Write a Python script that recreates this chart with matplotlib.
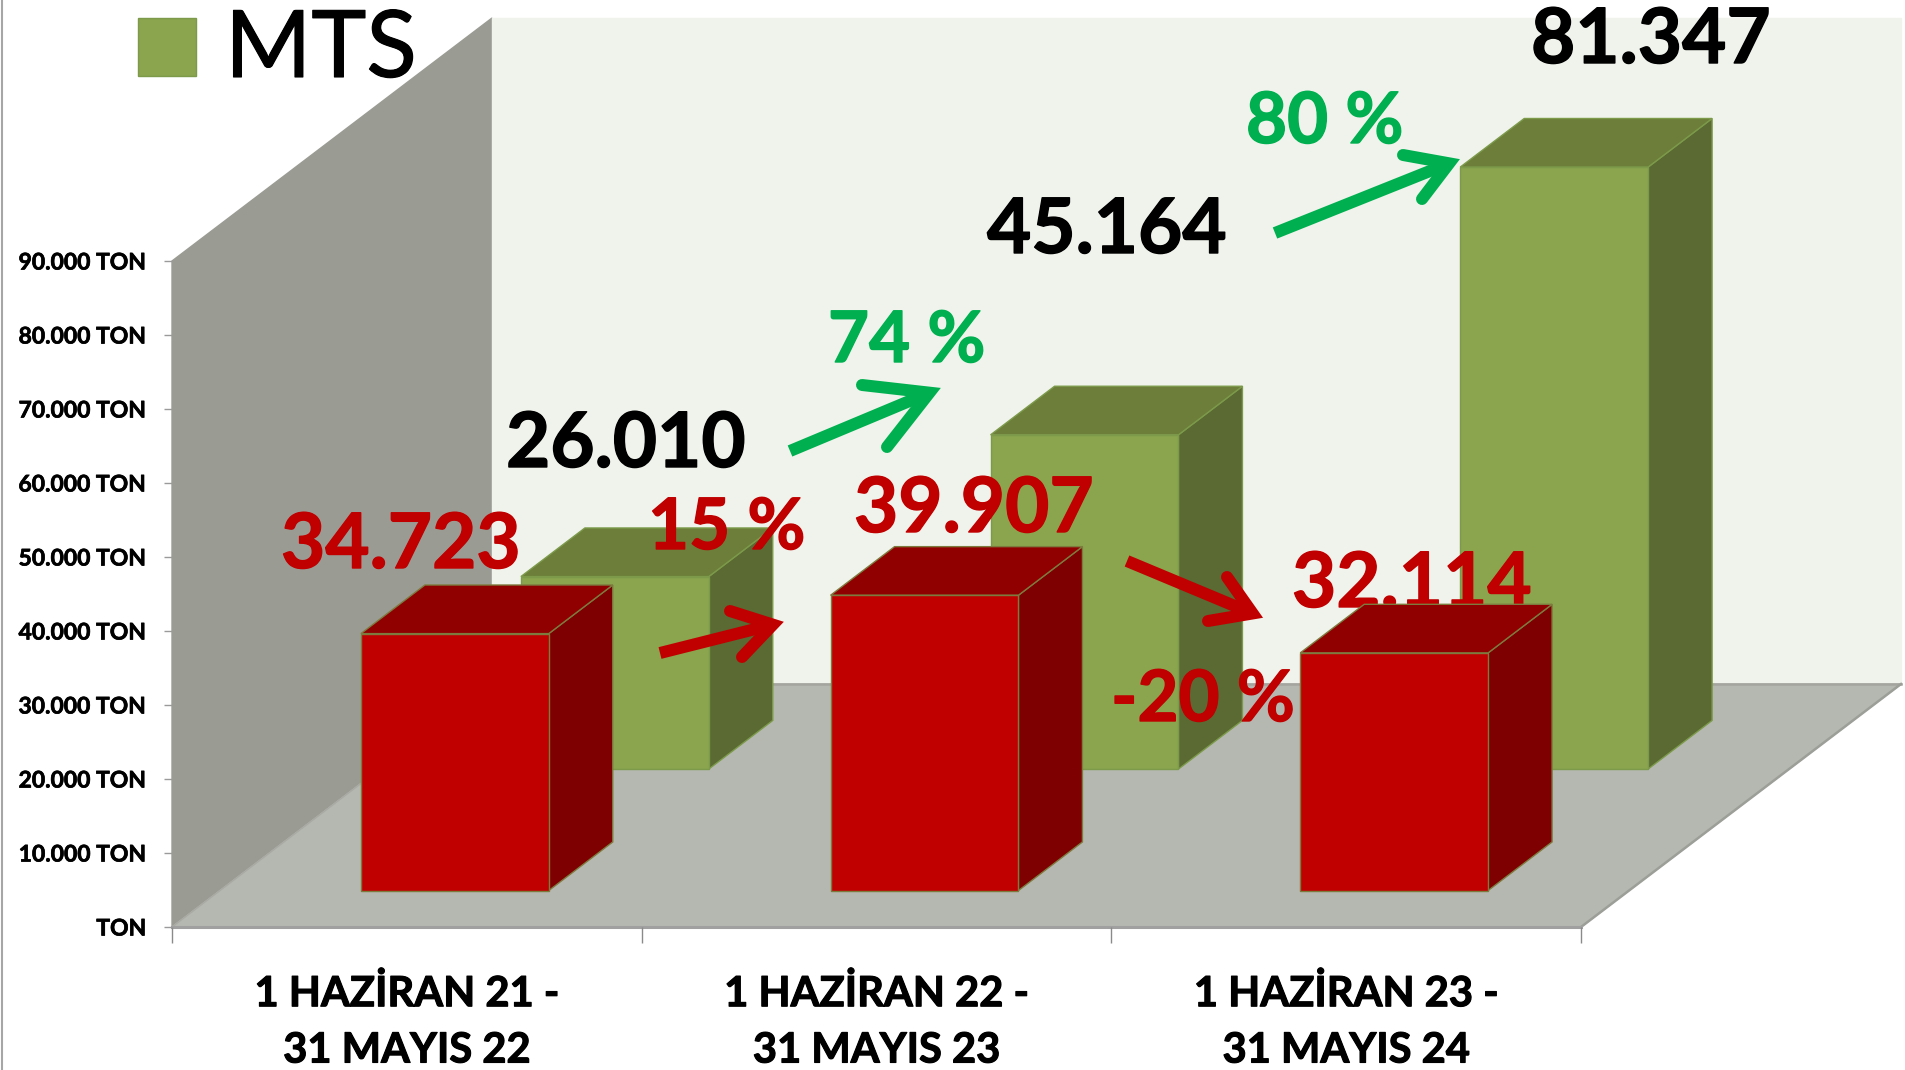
"""3D-look clustered bars (red front row, green MTS back row), drawn as projected polygons."""

import matplotlib

matplotlib.use("Agg")
import matplotlib.patheffects as pe
import matplotlib.pyplot as plt
import numpy as np
from matplotlib.patches import Polygon, Rectangle

plt.rcParams["font.family"] = ["Lato", "DejaVu Sans"]

W, H = 1905, 1070

categories = ["1 HAZİRAN 21 -\n31 MAYIS 22", "1 HAZİRAN 22 -\n31 MAYIS 23", "1 HAZİRAN 23 -\n31 MAYIS 24"]
red_values = [34723, 39907, 32114]
green_values = [26010, 45164, 81347]
y_ticks = [0, 10000, 20000, 30000, 40000, 50000, 60000, 70000, 80000, 90000]
y_labels = ["TON", "10.000 TON", "20.000 TON", "30.000 TON", "40.000 TON", "50.000 TON",
            "60.000 TON", "70.000 TON", "80.000 TON", "90.000 TON"]
red_labels = ["34.723", "39.907", "32.114"]
green_labels = ["26.010", "45.164", "81.347"]
red_changes = ["15 %", "-20 %"]
green_changes = ["74 %", "80 %"]

RED = "#C00000"
GREEN_TXT = "#00B050"

# how far one unit of depth shifts a point, in data units
DEPTH_X = 320 / (1409 / 3)
DEPTH_Y = 243 / 666 * 90000


def proj(x, y, z):
    return (x + z * DEPTH_X, y + z * DEPTH_Y)


def face(ax, pts, color, edge=None, lw=1.0, zorder=1):
    ax.add_patch(Polygon([proj(*p) for p in pts], closed=True, facecolor=color,
                         edgecolor=edge if edge else color, lw=lw, zorder=zorder, clip_on=False))


def bar3d(ax, x0, x1, z0, z1, v, front, top, side, edge, zorder):
    face(ax, [(x1, 0, z0), (x1, 0, z1), (x1, v, z1), (x1, v, z0)], side, edge, zorder=zorder)
    face(ax, [(x0, v, z0), (x1, v, z0), (x1, v, z1), (x0, v, z1)], top, edge, zorder=zorder)
    face(ax, [(x0, 0, z0), (x1, 0, z0), (x1, v, z0), (x0, v, z0)], front, edge, zorder=zorder)


def open_arrow(pix, tail, tip, barb1, barb2, color, lw_px=12):
    # the V's centre lines meet behind the tip so that the mitre lands right on it
    lw = lw_px * 72 / 100
    tail, tip, barb1, barb2 = [np.array(p, float) for p in (tail, tip, barb1, barb2)]
    u1 = (barb1 - tip) / np.linalg.norm(barb1 - tip)
    u2 = (barb2 - tip) / np.linalg.norm(barb2 - tip)
    bis = (u1 + u2) / np.linalg.norm(u1 + u2)
    sin_half = np.linalg.norm(u1 - u2) / 2
    inner = tip + bis * (lw_px / 2) / sin_half
    pix.plot([tail[0], inner[0]], [tail[1], inner[1]], color=color, lw=lw, solid_capstyle="butt")
    pix.plot([barb1[0], inner[0], barb2[0]], [barb1[1], inner[1], barb2[1]], color=color, lw=lw,
             solid_joinstyle="miter", solid_capstyle="round")


def thick(color, w=1.0):
    # Lato Bold is a little lighter than the reference's face
    return [pe.withStroke(linewidth=w, foreground=color)]


fig = plt.figure(figsize=(W / 100, H / 100), dpi=100, facecolor="white")
ax = fig.add_axes([172 / W, (H - 927) / H, 1409 / W, 666 / H])
ax.set_xlim(0, 3)
ax.set_ylim(0, 90000)
ax.patch.set_visible(False)

# overlay in pixel coordinates for the free-floating annotations
pix = fig.add_axes([0, 0, 1, 1], xlim=(0, W), ylim=(H, 0), zorder=5)
pix.axis("off")

# walls and floor
face(ax, [(0, 0, 0), (0, 90000, 0), (0, 90000, 1), (0, 0, 1)], "#9A9C94", zorder=1)
face(ax, [(0, 0, 1), (3, 0, 1), (3, 90000, 1), (0, 90000, 1)], "#F0F3EC", zorder=1)
face(ax, [(0, 0, 0), (3, 0, 0), (3, 0, 1), (0, 0, 1)], "#B5B8B0", zorder=1.2)
ax.plot(*zip(proj(0, 0, 1), proj(3, 0, 1)), color="#A3A59E", lw=1.8, zorder=1.3, clip_on=False)
ax.plot(*zip(proj(3, 0, 0), proj(3, 0, 1)), color="#9C9E98", lw=1.8, zorder=1.3, clip_on=False)
ax.plot(*zip(proj(0, 0, 0), proj(0, 0, 1)), color="#A8AAA3", lw=1.0, zorder=1.3, clip_on=False)
ax.plot([0, 3], [0, 0], color="#A0A0A0", lw=2.2, zorder=1.3, clip_on=False)

for i, v in enumerate(green_values):
    bar3d(ax, i + 0.3, i + 0.7, 0.65, 0.85, v, "#8AA54D", "#6C7E3A", "#5A6A32", "#7C9A4A", 2)
for i, v in enumerate(red_values):
    bar3d(ax, i + 0.3, i + 0.7, 0.15, 0.35, v, RED, "#900000", "#7F0000", "#7E7B3F", 4)

# axes furniture
for s in ax.spines.values():
    s.set_visible(False)
ax.set_yticks(y_ticks, y_labels, fontsize=16.5, fontweight="bold")
ax.tick_params(axis="y", length=5.5, width=1, color="#9A9A9A", pad=13)
ax.set_xticks([0, 1, 2, 3], [])
ax.tick_params(axis="x", which="major", length=11.5, width=1, color="#8A8A8A")
ax.set_xticks([0.5, 1.5, 2.5], categories, minor=True, fontsize=30, fontweight="bold", linespacing=1.59)
ax.tick_params(axis="x", which="minor", length=0, pad=34)
for lab in ax.get_yticklabels():
    lab.set_path_effects(thick("black", 0.5))
for lab in ax.get_xticklabels(minor=True):
    lab.set_path_effects(thick("black", 0.8))

# left image border
pix.plot([2, 2], [0, H], color="#A6A6A6", lw=1.5)

# legend
pix.add_patch(Rectangle((138, 18), 58, 58, facecolor="#8AA54D", edgecolor="#7C9A4A", lw=1))
pix.text(225, 77, "MTS", fontsize=67, color="black", ha="left", va="baseline",
         path_effects=thick("black", 0.8))

LABEL = dict(fontsize=55, fontweight="bold", ha="left", va="baseline")
CHANGE = dict(fontsize=51, fontweight="bold", ha="left", va="baseline")

pix.text(281, 568, red_labels[0], color=RED, path_effects=thick(RED), **LABEL)
pix.text(854, 532, red_labels[1], color=RED, path_effects=thick(RED), **LABEL)
# the third red label sits behind its bar's top face
ax.text(1292, 607, red_labels[2], color=RED, transform=pix.transData, zorder=3, clip_on=False,
        path_effects=thick(RED), **LABEL)
pix.text(506, 467, green_labels[0], color="black", path_effects=thick("black"), **LABEL)
pix.text(987, 253, green_labels[1], color="black", path_effects=thick("black"), **LABEL)
pix.text(1531, 63, green_labels[2], color="black", path_effects=thick("black"), **LABEL)

pix.text(648, 549, red_changes[0], color=RED, path_effects=thick(RED), **CHANGE)
pix.text(1111, 721, red_changes[1], color=RED, path_effects=thick(RED), **CHANGE)
pix.text(828, 362, green_changes[0], color=GREEN_TXT, path_effects=thick(GREEN_TXT), **CHANGE)
pix.text(1246, 143, green_changes[1], color=GREEN_TXT, path_effects=thick(GREEN_TXT), **CHANGE)

open_arrow(pix, (790, 451), (943, 387), (862, 385), (887, 447), GREEN_TXT)
open_arrow(pix, (1275, 233), (1463, 158), (1403, 155), (1422, 199), GREEN_TXT)
open_arrow(pix, (660, 653), (787, 621), (730, 611), (742, 657), RED)
open_arrow(pix, (1127, 561), (1266, 619), (1227, 577), (1208, 621), RED)

fig.savefig("out.png", dpi=100)
